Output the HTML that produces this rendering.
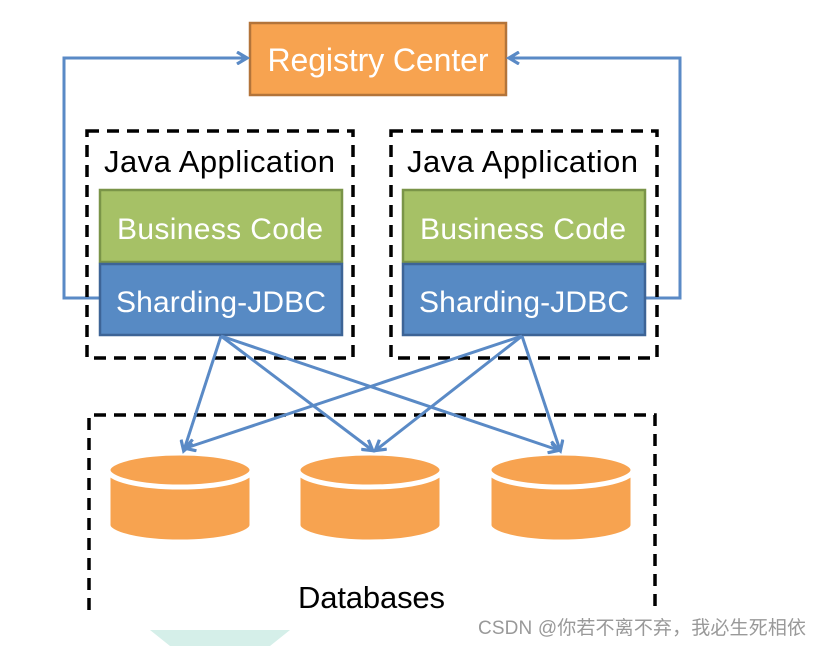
<!DOCTYPE html>
<html><head><meta charset="utf-8"><style>
html,body{margin:0;padding:0;background:#fff;width:822px;height:646px;overflow:hidden}
svg{display:block}
text{font-family:"Liberation Sans","DejaVu Sans",sans-serif}
</style></head><body>
<svg width="822" height="646" viewBox="0 0 822 646" xmlns="http://www.w3.org/2000/svg">
<defs>
<marker id="ah" markerWidth="14" markerHeight="14" refX="10" refY="7" orient="auto" markerUnits="userSpaceOnUse">
<path d="M1,1 L11,7 L1,13" fill="none" stroke="#5a8ac6" stroke-width="3.2"/>
</marker>
</defs>
<path d="M150,630 L290,630 L270,646 L170,646 Z" fill="#d5efe9"/>
<rect x="250" y="23" width="256" height="72" fill="#f7a350" stroke="#b3743a" stroke-width="2.5"/>
<text x="378" y="71" font-size="32" fill="#fff" text-anchor="middle" textLength="221">Registry Center</text>
<polyline points="100,298 64,298 64,58 246,58" fill="none" stroke="#5a8ac6" stroke-width="3" marker-end="url(#ah)"/>
<polyline points="645,298 680,298 680,58 510,58" fill="none" stroke="#5a8ac6" stroke-width="3" marker-end="url(#ah)"/>
<rect x="87" y="131" width="266" height="227" fill="none" stroke="#000" stroke-width="3.5" stroke-dasharray="12,8"/>
<rect x="391" y="131" width="266" height="227" fill="none" stroke="#000" stroke-width="3.5" stroke-dasharray="12,8"/>
<text x="104" y="172" font-size="31" fill="#000" textLength="231">Java Application</text>
<text x="407" y="172" font-size="31" fill="#000" textLength="231">Java Application</text>
<rect x="100" y="190" width="242" height="72" fill="#a6c166" stroke="#7a9448" stroke-width="2.5"/>
<rect x="403" y="190" width="242" height="72" fill="#a6c166" stroke="#7a9448" stroke-width="2.5"/>
<text x="117" y="239" font-size="30" fill="#fff" textLength="206">Business Code</text>
<text x="420" y="239" font-size="30" fill="#fff" textLength="206">Business Code</text>
<rect x="100" y="264" width="242" height="71" fill="#578ac4" stroke="#3d6496" stroke-width="2.5"/>
<rect x="403" y="264" width="242" height="71" fill="#578ac4" stroke="#3d6496" stroke-width="2.5"/>
<text x="116" y="312" font-size="30" fill="#fff" textLength="210">Sharding-JDBC</text>
<text x="419" y="312" font-size="30" fill="#fff" textLength="210">Sharding-JDBC</text>
<path d="M89,610 L89,415 L655,415 L655,610" fill="none" stroke="#000" stroke-width="3.5" stroke-dasharray="12,8"/>
<g fill="#f7a350" stroke="#fff" stroke-width="5">
<path d="M108,470 L108,525 A72,17 0 0 0 252,525 L252,470 Z"/>
<ellipse cx="180" cy="470" rx="72" ry="17"/>
<path d="M298,470 L298,525 A72,17 0 0 0 442,525 L442,470 Z"/>
<ellipse cx="370" cy="470" rx="72" ry="17"/>
<path d="M489,470 L489,525 A72,17 0 0 0 633,525 L633,470 Z"/>
<ellipse cx="561" cy="470" rx="72" ry="17"/>
</g>
<g stroke="#5a8ac6" stroke-width="3" fill="none" marker-end="url(#ah)">
<line x1="221" y1="336" x2="184" y2="450"/>
<line x1="221" y1="336" x2="372" y2="450"/>
<line x1="221" y1="336" x2="558" y2="450"/>
<line x1="522" y1="336" x2="186" y2="448"/>
<line x1="522" y1="336" x2="376" y2="450"/>
<line x1="522" y1="336" x2="560" y2="450"/>
</g>
<text x="298" y="608" font-size="31" fill="#000" textLength="147">Databases</text>
<text x="478" y="634" font-size="19" fill="#999" textLength="328" font-family="'Liberation Sans','Noto Sans CJK SC',sans-serif">CSDN @你若不离不弃，我必生死相依</text>
</svg>
</body></html>
